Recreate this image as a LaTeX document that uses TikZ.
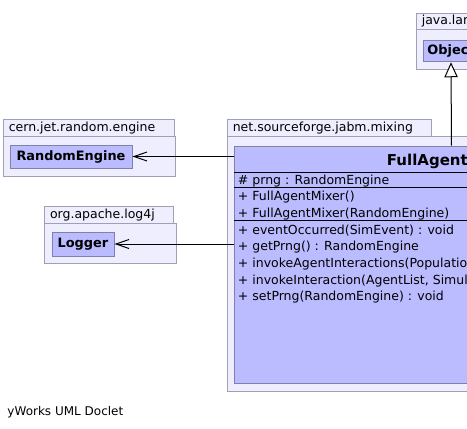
\documentclass[tikz,border=0pt]{standalone}
\usepackage{fontspec}
\setmainfont{DejaVu Sans}
\usetikzlibrary{arrows.meta}
\definecolor{pkgfill}{HTML}{EEEEFF}
\definecolor{pkgline}{HTML}{A0A0B4}
\definecolor{clsfill}{HTML}{BBBBFF}
\definecolor{clsline}{HTML}{8080A8}
\tikzset{
  pkgtab/.style={draw=pkgline, fill=pkgfill, line width=1pt, anchor=north west, inner xsep=5.6pt, inner ysep=0pt, minimum height=16.7pt, text height=9pt, text depth=2.5pt, align=left, font=\fontsize{12.5}{14}\selectfont},
  pkgbody/.style={draw=pkgline, fill=pkgfill, line width=1pt, anchor=north west, inner sep=0pt},
  clsbox/.style={draw=clsline, fill=clsfill, line width=1pt, inner sep=0pt, font=\fontsize{12.9}{15}\selectfont\bfseries},
  dep/.style={-{Straight Barb[length=13pt,width=9pt]}, line width=1pt},
  inherit/.style={-{Triangle[fill=white,length=15pt,width=13.4pt]}, line width=1pt}
}
\begin{document}
\begin{tikzpicture}[x=1pt, y=-1pt,
  member/.style={anchor=base west, inner sep=0pt, font=\fontsize{12.5}{14}\selectfont},
  sep/.style={line width=1pt}
]
\useasboundingbox (0,0) rectangle (467,429);
\clip (0,0) rectangle (467,429);
% packages
\node[pkgbody, minimum width=172.3pt, minimum height=40pt] (cernbody) at (2.7,136) {};
\node[pkgtab, text width=160.4pt] (cerntab) at (2.7,119.3) {cern.jet.random.engine};
\node[pkgbody, minimum width=132pt, minimum height=40.3pt] (logbody) at (44,222.7) {};
\node[pkgtab, text width=117.8pt] (logtab) at (44,206.2) {org.apache.log4j};
\node[pkgbody, minimum width=70.3pt, minimum height=39.7pt] (langbody) at (415.7,29.3) {};
\node[pkgtab, text width=55.8pt] (langtab) at (415.7,12.6) {java.lang};
\node[pkgbody, minimum width=448.3pt, minimum height=255pt] (mixbody) at (226.7,136) {};
\node[pkgtab, text width=193.4pt] (mixtab) at (226.7,119.3) {net.sourceforge.jabm.mixing};
% classes
\node[clsbox, minimum width=122pt, minimum height=23pt] (rengine) at (71,156.5) {RandomEngine};
\node[clsbox, minimum width=62pt, minimum height=24pt] (logger) at (83,244) {Logger};
\node[clsbox, minimum width=55.4pt, minimum height=21.7pt] (object) at (451,50.9) {Object};
\node[clsbox, anchor=north west, minimum width=433.4pt, minimum height=237.6pt] (agent) at (234.3,145.7) {};
\node[anchor=base, inner sep=0pt, font=\fontsize{15}{18}\selectfont\bfseries] (agentname) at (451,165) {FullAgentMixer};
\foreach \y in {172.5,187.5,220.5}
  \draw[sep] (agent.west |- 0,\y) -- (agent.east |- 0,\y);
% members
\node[member] (attr1) at (237.7,184.2) {\makebox[14.5pt][l]{\#}prng : RandomEngine};
\node[member] (ctor1) at (237.7,200.9) {\makebox[14.5pt][l]{+}FullAgentMixer()};
\node[member] (ctor2) at (237.7,217.3) {\makebox[14.5pt][l]{+}FullAgentMixer(RandomEngine)};
\foreach \txt [count=\i] in {{eventOccurred(SimEvent) : void}, {getPrng() : RandomEngine}, {invokeAgentInteractions(Population, SimulationController) : void}, {invokeInteraction(AgentList, SimulationController) : void}, {setPrng(RandomEngine) : void}}
  \node[member] (method\i) at (237.7,217.3+16.7*\i) {\makebox[14.5pt][l]{+}\txt};
% relations
\draw[dep] (agent.west |- rengine.east) -- (rengine.east);
\draw[dep] (agent.west |- logger.east) -- (logger.east);
\draw[inherit] (agent.north) -- (object.south);
\node[anchor=west, inner sep=0pt, font=\fontsize{12}{14}\selectfont] (doclet) at (7.3,411.7) {yWorks UML Doclet};
\end{tikzpicture}
\end{document}
